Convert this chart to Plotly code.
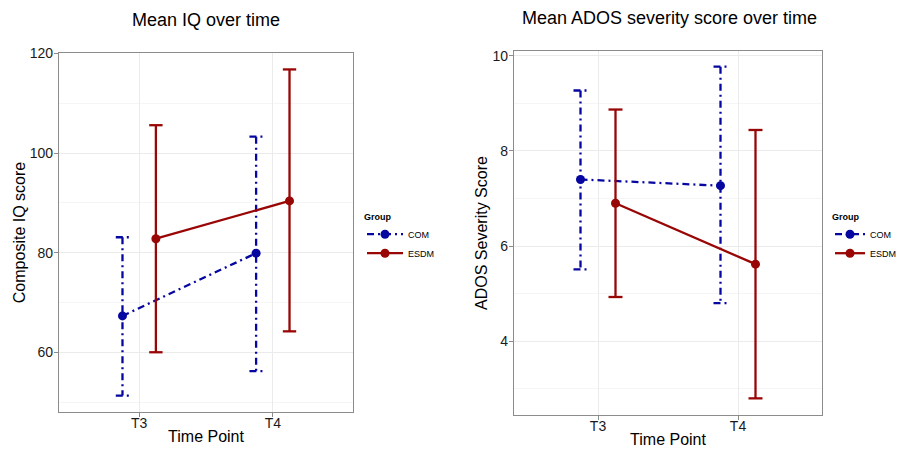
import plotly.graph_objects as go

# ---------------- data ----------------
time_points = ["T3", "T4"]
groups = ["COM", "ESDM"]

iq_com_mean = [67.3, 79.9]
iq_com_lower = [51.3, 56.2]
iq_com_upper = [83.1, 103.3]
iq_esdm_mean = [82.8, 90.4]
iq_esdm_lower = [60.0, 64.2]
iq_esdm_upper = [105.6, 116.8]

ados_com_mean = [7.40, 7.27]
ados_com_lower = [5.51, 4.80]
ados_com_upper = [9.27, 9.77]
ados_esdm_mean = [6.90, 5.62]
ados_esdm_lower = [4.93, 2.80]
ados_esdm_upper = [8.87, 8.44]

# ---------------- style ----------------
FONT = "Liberation Sans, Arial, sans-serif"
COL = {"COM": "#0606a0", "ESDM": "#990606"}
DASH = {"COM": "7px,4px,2px,4px", "ESDM": "solid"}
DODGE = {"COM": -0.125, "ESDM": 0.125}
CAP = 0.05
LW = 2.3

fig = go.Figure()


def add_group(name, mean, lower, upper, xa, ya, legend, show):
    xs = [i + 1 + DODGE[name] for i in range(len(time_points))]
    ex, ey = [], []
    for x, lo, hi in zip(xs, lower, upper):
        ex += [x - CAP, x + CAP, None, x, x, None, x - CAP, x + CAP, None]
        ey += [hi, hi, None, hi, lo, None, lo, lo, None]
    fig.add_trace(go.Scatter(
        x=ex, y=ey, mode="lines", xaxis=xa, yaxis=ya,
        line=dict(color=COL[name], width=LW, dash=DASH[name]),
        showlegend=False, hoverinfo="skip"))
    fig.add_trace(go.Scatter(
        x=xs, y=mean, mode="lines+markers", name=name, xaxis=xa, yaxis=ya,
        line=dict(color=COL[name], width=LW, dash=DASH[name]),
        marker=dict(color=COL[name], size=9),
        legend=legend, showlegend=show))


add_group("COM", iq_com_mean, iq_com_lower, iq_com_upper, "x", "y", "legend", True)
add_group("ESDM", iq_esdm_mean, iq_esdm_lower, iq_esdm_upper, "x", "y", "legend", True)
add_group("COM", ados_com_mean, ados_com_lower, ados_com_upper, "x2", "y2", "legend2", True)
add_group("ESDM", ados_esdm_mean, ados_esdm_lower, ados_esdm_upper, "x2", "y2", "legend2", True)

H = 449
W = 902

axis_common = dict(
    showline=True, mirror=True, linecolor="#8c8c8c", linewidth=1.2,
    ticks="outside", ticklen=4, tickcolor="#8c8c8c", tickwidth=1,
    tickfont=dict(size=14, color="#1a1a1a", family=FONT),
    showgrid=True, gridcolor="#ebebeb", gridwidth=1, zeroline=False,
    automargin=False,
)

TITLE_FONT = dict(size=16, color="black", family=FONT)

xcommon = dict(axis_common, range=[0.4, 2.6], tickvals=[1, 2], ticktext=time_points,
               ticklabelstandoff=-6,
               title=dict(text="Time Point", font=TITLE_FONT, standoff=0))

legend_common = dict(
    y=1 - 208 / H, xanchor="left", yanchor="top",
    title=dict(text="<b>Group</b>", font=dict(size=9, color="black")),
    font=dict(size=9, color="black", family=FONT),
    bgcolor="rgba(0,0,0,0)", tracegroupgap=0,
)

fig.update_layout(
    width=W, height=H,
    margin=dict(l=0, r=0, t=0, b=0),
    paper_bgcolor="white", plot_bgcolor="white",
    font=dict(family=FONT),
    xaxis=dict(xcommon, domain=[59 / W, 353 / W], anchor="y"),
    yaxis=dict(axis_common, domain=[1 - 412 / H, 1 - 53 / H], anchor="x",
               range=[48.0, 120.1], tick0=0, dtick=20, ticklabelstandoff=-2,
               minor=dict(showgrid=True, gridcolor="#f5f5f5", dtick=10, tick0=0),
               title=dict(text="Composite IQ score", font=TITLE_FONT, standoff=0)),
    xaxis2=dict(xcommon, domain=[514 / W, 822 / W], anchor="y2"),
    yaxis2=dict(axis_common, domain=[1 - 415 / H, 1 - 51 / H], anchor="x2",
                range=[2.45, 10.1], tick0=0, dtick=2, ticklabelstandoff=-2,
                minor=dict(showgrid=True, gridcolor="#f5f5f5", dtick=1, tick0=0),
                title=dict(text="ADOS Severity Score", font=TITLE_FONT, standoff=0)),
    legend=dict(legend_common, x=362 / W, itemwidth=36),
    legend2=dict(legend_common, x=830 / W, itemwidth=30),
    annotations=[
        dict(text="Mean IQ over time", x=206 / W, y=1 - 20 / H, xref="paper", yref="paper",
             showarrow=False, font=dict(size=18, color="black", family=FONT),
             xanchor="center", yanchor="middle"),
        dict(text="Mean ADOS severity score over time", x=669 / W, y=1 - 18 / H,
             xref="paper", yref="paper", showarrow=False,
             font=dict(size=18, color="black", family=FONT),
             xanchor="center", yanchor="middle"),
    ],
)

fig.write_html("out.html", config={"displayModeBar": False},
               post_script="document.body.style.margin='0px';")
